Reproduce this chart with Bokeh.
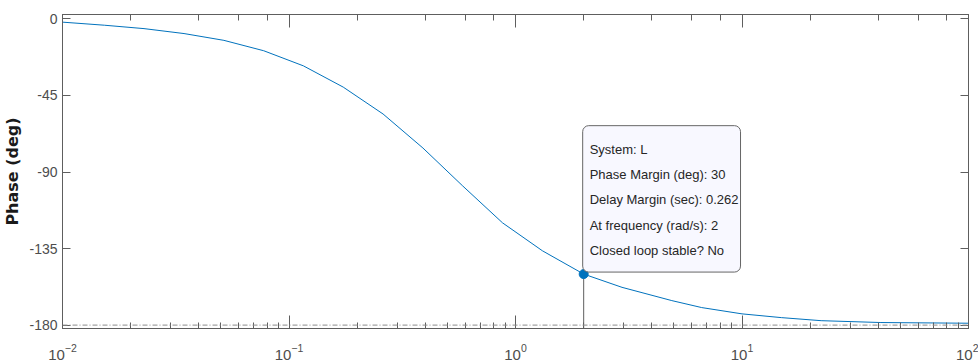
from bokeh.plotting import figure
from bokeh.models import (LogAxis, LinearAxis, FixedTicker, LogTicker, Span, Label,
                          CustomJSTickFormatter)
from bokeh.embed import file_html
from bokeh.resources import INLINE

# ---- data ----
freq = [0.01, 0.0153, 0.0229, 0.0344, 0.0516, 0.0773, 0.1158, 0.1736, 0.2602,
        0.3902, 0.5848, 0.8767, 1.314, 2.0, 2.953, 4.899, 6.637, 10.0, 14.92,
        22.36, 41.04, 100.0]
phase = [-1.9, -3.7, -5.7, -8.6, -12.6, -18.7, -27.6, -40.1, -55.9,
         -75.9, -98.2, -119.9, -136.3, -150.0, -157.8, -165.6, -169.7, -173.4, -175.6,
         -177.4, -178.5, -178.9]
y_ticks = [-180, -135, -90, -45, 0]
x_lim = (0.01, 100)
y_lim = (-182, 2.6)
ref_phase = -180
pm_freq = 2.0
pm_deg = 30
delay_margin = 0.262
system_name = "L"
stable = "No"

pm_phase = ref_phase + pm_deg

AX = "#5e5e5e"
TXT = "#4d4d4d"
FONT = "Liberation Sans"

p = figure(width=978, height=363, x_axis_type="log", x_range=x_lim, y_range=y_lim,
           output_backend="svg", toolbar_location=None,
           min_border_left=58, min_border_right=10, min_border_top=14, min_border_bottom=35)
p.grid.visible = False
p.outline_line_color = AX
p.background_fill_color = "white"
p.border_fill_color = "white"

xa = p.xaxis[0]
xa.major_tick_in = 13
xa.major_tick_out = 0
xa.minor_tick_in = 6
xa.minor_tick_out = 0
xa.axis_line_color = AX
xa.major_tick_line_color = AX
xa.minor_tick_line_color = AX
xa.major_label_text_font = FONT
xa.major_label_text_font_size = "15px"
xa.major_label_text_color = TXT
xa.major_label_standoff = 15

ya = p.yaxis[0]
ya.ticker = FixedTicker(ticks=y_ticks)
ya.major_label_overrides = {t: str(t) for t in y_ticks}
ya.major_tick_in = 8
ya.major_tick_out = 0
ya.minor_tick_in = 0
ya.minor_tick_out = 0
ya.axis_line_color = AX
ya.major_tick_line_color = AX
ya.major_label_text_font = FONT
ya.major_label_text_font_size = "14px"
ya.major_label_text_color = TXT
ya.major_label_standoff = 5
ya.axis_label = "Phase (deg)"
ya.axis_label_text_font = "DejaVu Sans"
ya.axis_label_text_font_style = "bold"
ya.axis_label_text_font_size = "16px"
ya.axis_label_text_color = "#1a1a1a"
ya.axis_label_standoff = 4

blank = CustomJSTickFormatter(code="return ''")
top = LogAxis(ticker=LogTicker(), formatter=blank,
              major_tick_in=13, major_tick_out=0, minor_tick_in=6, minor_tick_out=0,
              axis_line_color=AX, major_tick_line_color=AX, minor_tick_line_color=AX,
              major_label_text_font_size="0px", major_label_standoff=0)
p.add_layout(top, "above")
right = LinearAxis(ticker=FixedTicker(ticks=y_ticks), formatter=CustomJSTickFormatter(code="return ''"),
                   major_tick_in=8, major_tick_out=0, minor_tick_in=0, minor_tick_out=0,
                   axis_line_color=AX, major_tick_line_color=AX,
                   major_label_text_font_size="0px", major_label_standoff=0)
p.add_layout(right, "right")

p.add_layout(Span(location=ref_phase, dimension="width", line_color="#8c8c8c",
                  line_width=1, line_dash="5 2 1 2"))

p.line(freq, phase, line_color="#0072BD", line_width=1)

p.segment(x0=[pm_freq], y0=[pm_phase], x1=[pm_freq], y1=[y_lim[0]],
          line_color="#5f5f5f", line_width=1)
p.scatter([pm_freq], [pm_phase], size=9, fill_color="#0072BD", line_color="#0072BD")

tip = "\n".join([
    f"System: {system_name}",
    f"Phase Margin (deg): {pm_deg}",
    f"Delay Margin (sec): {delay_margin}",
    f"At frequency (rad/s): {pm_freq:g}",
    f"Closed loop stable? {stable}",
])
p.add_layout(Label(x=pm_freq, y=pm_phase, x_offset=-1, y_offset=2, text=tip,
                   anchor="bottom_left",
                   text_font=FONT, text_font_size="13px", text_color="#262626",
                   text_line_height=1.69,
                   background_fill_color="#F8F8FF", border_line_color="#666666",
                   border_line_width=1, border_radius=6,
                   padding=dict(left=7, right=2, top=16, bottom=14)))

open("out.html", "w").write(file_html(p, INLINE))
